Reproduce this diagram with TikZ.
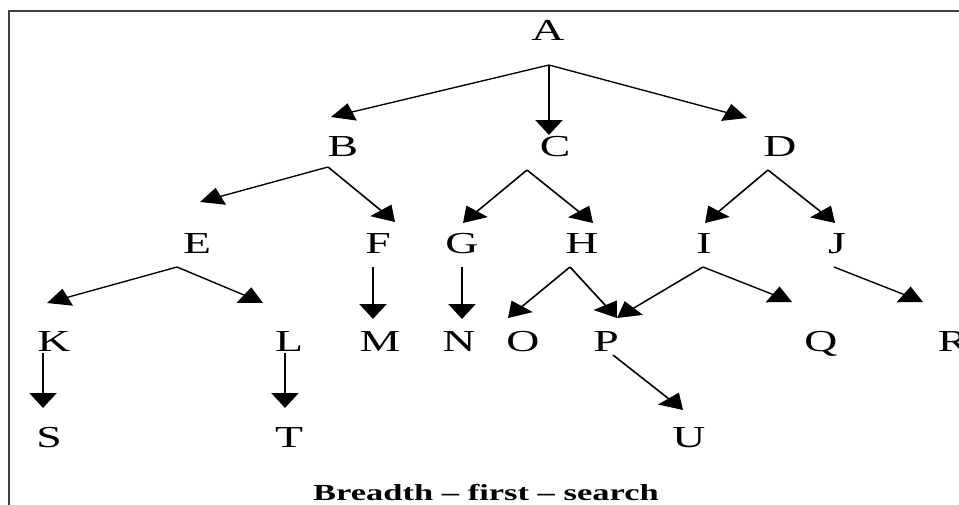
\documentclass[tikz,border=0pt]{standalone}
\usepackage{fontspec}
\setmainfont{Liberation Serif}
\usetikzlibrary{arrows.meta}

\begin{document}
\begin{tikzpicture}
  % page frame: 959 x 504, origin at the top left corner
  \useasboundingbox[fill=white] (0pt,0pt) rectangle (959pt,-504pt);
  % frame lines (left and top)
  \draw[line width=1.7pt, black!75] (9pt,-510pt) -- (9pt,-11pt) -- (965pt,-11pt);

  \begin{scope}[transform canvas={xscale=1.5},
      x={(0.6666667pt,0pt)}, y={(0pt,-1pt)},
      letter/.style={inner sep=0pt, text height=20pt, text depth=0pt,
                     font=\fontsize{30.5}{30.5}\selectfont},
      caption/.style={inner sep=0pt, text height=15pt, text depth=0pt,
                      font=\fontsize{23}{23}\selectfont\bfseries},
      link/.style={line width=1.3pt, -{Triangle[length=15pt, width=18pt]}}]

    % level 0
    \node[letter] (A) at (548,30) {A};
    % level 1
    \node[letter] (B) at (343,146) {B};
    \node[letter] (C) at (555,146) {C};
    \node[letter] (D) at (780,146) {D};
    % level 2
    \node[letter] (E) at (197,243) {E};
    \node[letter] (F) at (378,243) {F};
    \node[letter] (G) at (462,243) {G};
    \node[letter] (H) at (582,243) {H};
    \node[letter] (I) at (704,243) {I};
    \node[letter] (J) at (837,243) {J};
    % level 3
    \node[letter] (K) at (54,341) {K};
    \node[letter] (L) at (289,341) {L};
    \node[letter] (M) at (380,341) {M};
    \node[letter] (N) at (459,341) {N};
    \node[letter] (O) at (523,341) {O};
    \node[letter] (P) at (606,341) {P};
    \node[letter] (Q) at (821,341) {Q};
    \node[letter] (R) at (953,341) {R};
    % level 4
    \node[letter] (S) at (49,437) {S};
    \node[letter] (T) at (289,437) {T};
    \node[letter] (U) at (689,437) {U};

    \node[caption] (title) at (486,493) {Breadth -- first -- search};

    % branching points below each parent
    \coordinate (A-out) at (549,65);
    \coordinate (B-out) at (328,167);
    \coordinate (C-out) at (527,170);
    \coordinate (D-out) at (768,170);
    \coordinate (E-out) at (177,267);
    \coordinate (F-out) at (373,267);
    \coordinate (G-out) at (462,267);
    \coordinate (H-out) at (570,267);
    \coordinate (I-out) at (703,267);
    \coordinate (J-out) at (834,267);
    \coordinate (K-out) at (43,353);
    \coordinate (L-out) at (285,353);
    \coordinate (P-out) at (613,355);

    % arrow tips above each child
    \coordinate (B-in) at (331,117);
    \coordinate (C-in) at (549,135);
    \coordinate (D-in) at (747,118);
    \coordinate (E-in) at (200,202);
    \coordinate (F-in) at (395,222);
    \coordinate (G-in) at (463,223);
    \coordinate (H-in) at (593,223);
    \coordinate (I-in) at (705,223);
    \coordinate (J-in) at (835,223);
    \coordinate (K-in) at (47,303);
    \coordinate (L-in) at (263,303);
    \coordinate (M-in) at (373,319);
    \coordinate (N-in) at (462,319);
    \coordinate (O-in) at (508,318);
    \coordinate (P-in) at (617,318);
    \coordinate (Q-in) at (792,302);
    \coordinate (R-in) at (923,302);
    \coordinate (S-in) at (43,408);
    \coordinate (T-in) at (285,408);
    \coordinate (U-in) at (683,410);

    \draw[link] (A-out) -- (B-in);
    \draw[link] (A-out) -- (C-in);
    \draw[link] (A-out) -- (D-in);
    \draw[link] (B-out) -- (E-in);
    \draw[link] (B-out) -- (F-in);
    \draw[link] (C-out) -- (G-in);
    \draw[link] (C-out) -- (H-in);
    \draw[link] (D-out) -- (I-in);
    \draw[link] (D-out) -- (J-in);
    \draw[link] (E-out) -- (K-in);
    \draw[link] (E-out) -- (L-in);
    \draw[link] (F-out) -- (M-in);
    \draw[link] (G-out) -- (N-in);
    \draw[link] (H-out) -- (O-in);
    \draw[link] (H-out) -- (P-in);
    \draw[link] (I-out) -- (P-in);
    \draw[link] (I-out) -- (Q-in);
    \draw[link] (J-out) -- (R-in);
    \draw[link] (K-out) -- (S-in);
    \draw[link] (L-out) -- (T-in);
    \draw[link] (P-out) -- (U-in);
  \end{scope}
\end{tikzpicture}
\end{document}
